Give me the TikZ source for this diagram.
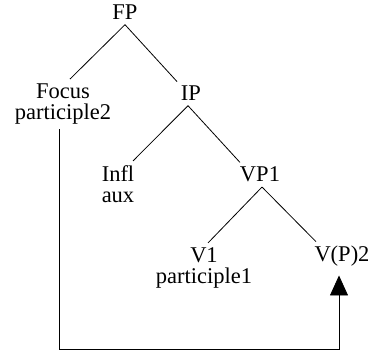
\documentclass[tikz,border=0pt]{standalone}
\usepackage{fontspec}
\setmainfont{Liberation Serif}
\newfontfamily\treefont{Liberation Serif}
\usepackage{tikz}
\usetikzlibrary{arrows.meta,positioning}
\tikzset{
  cat/.style={inner sep=4.5pt,font=\treefont\fontsize{22.5}{21.5}\selectfont,align=center,anchor=base},
  branch/.style={line width=0.8pt,draw=black},
  move/.style={-{Triangle[length=20pt,width=18pt]},line width=0.8pt,draw=black},
}

\begin{document}
\begin{tikzpicture}[x=1pt,y=1pt]
  \useasboundingbox (0,0) rectangle (375,352);
  \node[cat] (fp) at (125,332) {FP};
  \node[cat] (focus) at (63,232) {Focus\\participle2};
  \node[cat] (ip) at (191,251) {IP};
  \node[cat] (infl) at (118,149) {Infl\\aux};
  \node[cat] (vp1) at (260,170) {VP1};
  \node[cat] (v1) at (204,68) {V1\\participle1};
  \node[cat] (vp2) at (342,90) {V(P)2};

  \draw[branch] (fp.south) -- ([xshift=7pt]focus.north);
  \draw[branch] (fp.south) -- ([xshift=-14pt]ip.north);
  \draw[branch] ([xshift=-3pt]ip.south) -- ([xshift=15pt]infl.north);
  \draw[branch] ([xshift=-3pt]ip.south) -- ([xshift=-20pt]vp1.north);
  \draw[branch] ([xshift=2pt]vp1.south) -- ([xshift=4pt]v1.north);
  \draw[branch] ([xshift=2pt]vp1.south) -- ([xshift=-26pt]vp2.north);

  % focus movement
  \draw[move] ([xshift=-4pt]focus.south) -- ++(0,-220) -| ([xshift=-3pt,yshift=-4pt]vp2.south);
\end{tikzpicture}
\end{document}
